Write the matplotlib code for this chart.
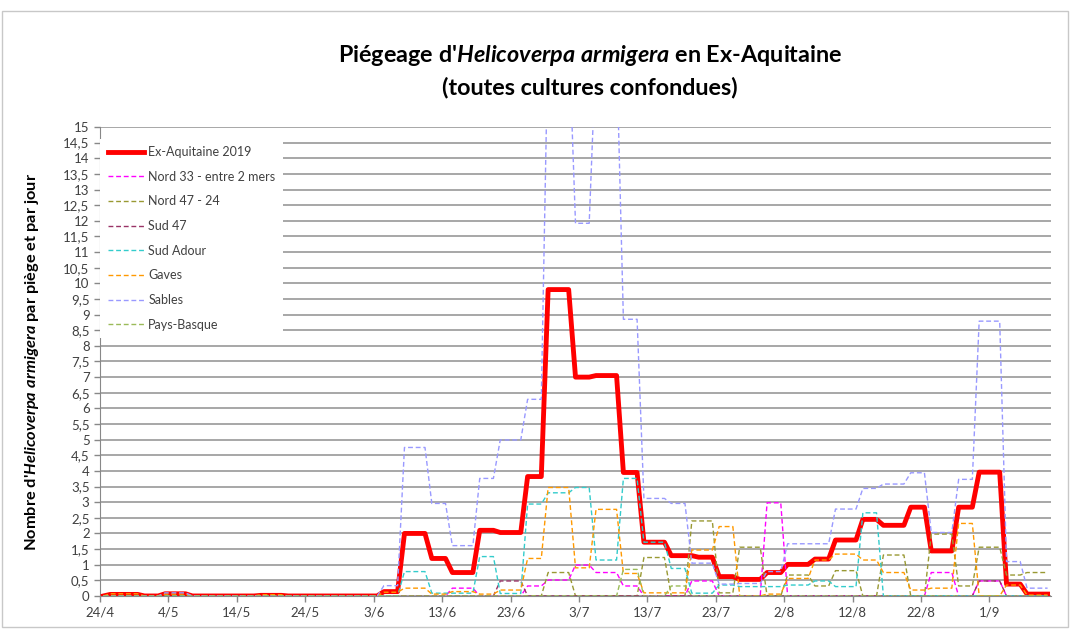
import numpy as np
import matplotlib
matplotlib.use('Agg')
import matplotlib.pyplot as plt
from matplotlib.ticker import MultipleLocator, FuncFormatter
from matplotlib.patches import Rectangle

plt.rcParams['font.family'] = ['Lato', 'DejaVu Sans']
plt.rcParams['mathtext.fontset'] = 'custom'
plt.rcParams['mathtext.rm'] = 'Lato:bold'
plt.rcParams['mathtext.it'] = 'Lato:italic:bold'
plt.rcParams['mathtext.bf'] = 'Lato:bold'

# daily values (24/4 = day 0), given as runs: value holds from start day to next start
n_days = 139
x_labels = ['24/4', '4/5', '14/5', '24/5', '3/6', '13/6', '23/6', '3/7',
            '13/7', '23/7', '2/8', '12/8', '22/8', '1/9']

aq_start = [0, 1, 6, 9, 13, 23, 27, 41, 44, 48, 51, 55, 58, 62, 65, 69, 72, 76, 79,
            83, 87, 90, 93, 97, 100, 104, 107, 111, 114, 118, 121, 125, 128, 132, 135]
aq_val = [0, 0.05, 0, 0.07, 0, 0.02, 0, 0.14, 2.0, 1.2, 0.75, 2.1, 2.03, 3.82, 9.8, 7.0,
          7.05, 3.95, 1.72, 1.29, 1.24, 0.62, 0.53, 0.75, 1.01, 1.18, 1.79, 2.45, 2.26,
          2.84, 1.44, 2.84, 3.96, 0.38, 0.06]

n33_start = [0, 51, 55, 62, 65, 69, 72, 76, 79, 86, 90, 97, 100, 121, 125, 128, 132]
n33_val = [0, 0.25, 0, 0.32, 0.51, 0.99, 0.75, 0.32, 0, 0.48, 0, 2.98, 0, 0.75, 0, 0.48, 0]

n47_start = [0, 65, 69, 79, 83, 86, 90, 93, 97, 100, 104, 107, 111, 114, 118, 121, 125,
             128, 132, 135]
n47_val = [0, 0.75, 0, 1.23, 0, 2.4, 0.1, 1.56, 0, 0.67, 0.32, 0.81, 0, 1.31, 0, 1.98,
           0.32, 1.56, 0.67, 0.75]

s47_start = [0, 58, 62, 128, 132]
s47_val = [0, 0.48, 0, 0.48, 0]

adour_start = [0, 44, 48, 55, 58, 62, 65, 69, 72, 76, 79, 83, 86, 90, 93, 100, 104, 107,
               111, 114]
adour_val = [0, 0.78, 0.09, 1.26, 0.08, 2.94, 3.3, 3.47, 1.15, 3.76, 1.72, 0.88, 0.09,
             0.35, 0.3, 0.35, 0.48, 0.3, 2.66, 0]

gaves_start = [0, 1, 6, 9, 13, 23, 27, 41, 44, 48, 51, 55, 58, 62, 65, 69, 72, 76, 79,
               86, 90, 93, 97, 100, 104, 107, 111, 114, 118, 121, 125, 128, 132, 135]
gaves_val = [0, 0.07, 0, 0.06, 0, 0.04, 0, 0.12, 0.25, 0.06, 0.14, 0.06, 0.19, 1.2, 3.47,
             0.9, 2.77, 0.72, 0.1, 1.47, 2.22, 0, 0.06, 0.56, 1.15, 1.34, 1.15, 0.75,
             0.19, 0.25, 2.32, 0, 0.35, 0.03]

sables_start = [0, 9, 13, 41, 44, 48, 51, 55, 58, 62, 65, 69, 72, 76, 79, 83, 86, 90,
                93, 97, 100, 107, 111, 114, 118, 121, 125, 128, 132, 135]
sables_val = [0, 0.1, 0, 0.33, 4.75, 2.96, 1.61, 3.76, 4.99, 6.29, 18.1, 11.92, 17.5,
              8.85, 3.12, 2.96, 1.05, 0.38, 0.4, 0.78, 1.67, 2.78, 3.44, 3.58, 3.94, 2.03,
              3.73, 8.79, 1.1, 0.25]

pb_start = [0, 76, 79, 83, 86]
pb_val = [0, 0.85, 0, 0.32, 0]

series = [
    ('Ex-Aquitaine 2019', aq_start, aq_val, '#FF0000'),
    ('Nord 33 - entre 2 mers', n33_start, n33_val, '#FF00FF'),
    ('Nord 47 - 24', n47_start, n47_val, '#999933'),
    ('Sud 47', s47_start, s47_val, '#993366'),
    ('Sud Adour', adour_start, adour_val, '#33CCCC'),
    ('Gaves', gaves_start, gaves_val, '#FF9900'),
    ('Sables', sables_start, sables_val, '#9999FF'),
    ('Pays-Basque', pb_start, pb_val, '#9BBB59'),
]


def daily(start, val):
    lens = np.diff(start + [n_days])
    return np.repeat(val, lens)


fig = plt.figure(figsize=(10.73, 6.29), dpi=100)
ax = fig.add_axes([0.0932, 0.0525, 0.8863, 0.7456])

x = np.arange(n_days) + 0.5
for i, (name, st, vals, col) in enumerate(series):
    y = daily(st, vals)
    if i == 0:
        ax.plot(x, y, color=col, lw=3.5, label=name, zorder=3)
    else:
        ax.plot(x, y, color=col, lw=1.0, dashes=(3.5, 2), label=name, zorder=4)

ax.set_xlim(0, n_days)
ax.set_ylim(0, 15)
ax.yaxis.set_major_locator(MultipleLocator(0.5))
ax.yaxis.set_major_formatter(FuncFormatter(lambda v, p: ('%g' % v).replace('.', ',')))
ax.set_xticks(np.arange(len(x_labels)) * 10)
ax.set_xticklabels(x_labels)
ax.tick_params(axis='both', labelsize=9.5, colors='#404040', direction='out',
               length=4, width=1)
ax.tick_params(axis='both', color='#888888')
ax.yaxis.grid(True, color='#A0A0A0', lw=1.3)
ax.set_axisbelow(True)
for s in ['top', 'right']:
    ax.spines[s].set_visible(False)
for s in ['left', 'bottom']:
    ax.spines[s].set_color('#888888')

ax.set_ylabel(r"Nombre d'$\mathit{Helicoverpa\ armigera}$ par piège et par jour",
              fontsize=11.8, fontweight='bold', labelpad=16)

fig.text(0.55, 0.912, r"Piégeage d'$\mathit{Helicoverpa\ armigera}$ en Ex-Aquitaine",
         ha='center', va='center', fontsize=16.8, fontweight='bold')
fig.text(0.55, 0.861, "(toutes cultures confondues)",
         ha='center', va='center', fontsize=16.8, fontweight='bold')

leg = ax.legend(loc='upper left', bbox_to_anchor=(0.0, 0.975), fontsize=9,
                frameon=True, fancybox=False, edgecolor='none', facecolor='white',
                framealpha=1, handlelength=2.9, handletextpad=0.35,
                labelspacing=1.01, borderpad=0.6, borderaxespad=0)
for t in leg.get_texts():
    t.set_color('#404040')

fig.patches.append(Rectangle((0.002, 0.003), 0.993, 0.98, transform=fig.transFigure,
                             fill=False, edgecolor='#C8C8C8', lw=1))

fig.savefig('out.png', dpi=100)
